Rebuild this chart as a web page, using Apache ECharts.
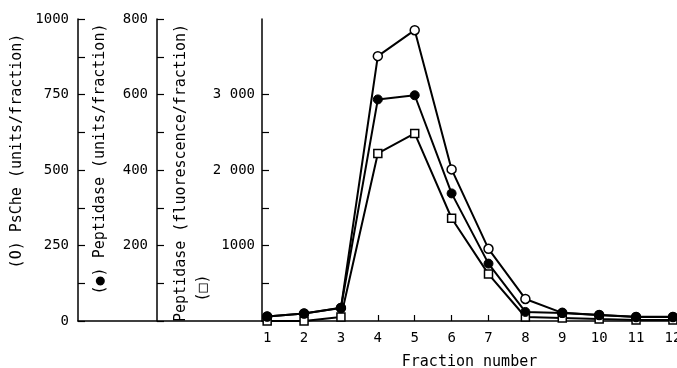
<!DOCTYPE html>
<html>
<head>
<meta charset="utf-8">
<script src="https://cdn.jsdelivr.net/npm/echarts@6/dist/echarts.min.js"></script>
<style>
  html, body { margin: 0; padding: 0; background: #fff; }
  #chart { width: 677px; height: 368px; }
</style>
</head>
<body>
<div id="chart"></div>
<script>
// fraction numbers on the x axis
const fractions = [1, 2, 3, 4, 5, 6, 7, 8, 9, 10, 11, 12]
// (O) PsChe, units/fraction
const psChe = [15, 25, 43, 877, 963, 502, 239, 73, 27, 20, 13, 13]
// (●) Peptidase, units/fraction
const peptidaseUnits = [12, 20, 35, 587, 598, 338, 152, 24, 21, 16, 11, 11]
// (□) Peptidase, fluorescence/fraction
const peptidaseFluor = [0, 0, 53, 2219, 2484, 1361, 621, 53, 40, 26, 13, 13]

const fluorTicks = [0, 500, 1000, 1500, 2000, 2500, 3000]
const fluorLabels = [1000, 2000, 3000]

const font = '"DejaVu Sans Mono", monospace'
const black = '#000'

const chart = echarts.init(document.getElementById('chart'))

const pairs = (ys) => fractions.map((f, i) => [f, ys[i]])

const yBase = {
  type: 'value',
  position: 'left',
  min: 0,
  splitLine: { show: false },
  axisLine: { show: true, onZero: false, lineStyle: { color: black, width: 1.5 } },
  axisTick: { show: true, inside: true, length: 7, lineStyle: { color: black, width: 1.2 } },
  axisLabel: { color: black, fontFamily: font, fontSize: 14, margin: 9 }
}

const option = {
  animation: false,
  backgroundColor: '#fff',
  grid: [
    { left: 262, right: 0, top: 19, bottom: 47, containLabel: false, outerBoundsMode: 'none' },
    { left: 78, width: 184, top: 19, bottom: 47, containLabel: false, outerBoundsMode: 'none' }
  ],
  xAxis: [
    {
      type: 'value',
      gridIndex: 0,
      min: 0.86,
      max: 12.11,
      splitLine: { show: false },
      axisLine: { show: true, onZero: false, lineStyle: { color: black, width: 1.5 } },
      axisTick: { show: true, inside: true, length: 6, customValues: fractions, lineStyle: { color: black, width: 1.2 } },
      axisLabel: { color: black, fontFamily: font, fontSize: 14, margin: 10, customValues: fractions },
      name: 'Fraction number',
      nameLocation: 'middle',
      nameGap: 34,
      nameTextStyle: { color: black, fontFamily: font, fontSize: 15 }
    },
    {
      type: 'value',
      gridIndex: 1,
      min: 0,
      max: 1,
      splitLine: { show: false },
      axisLine: { show: true, onZero: false, lineStyle: { color: black, width: 1.5 } },
      axisTick: { show: false },
      axisLabel: { show: false }
    }
  ],
  yAxis: [
    {
      ...yBase,
      max: 4000,
      offset: 0,
      axisTick: { ...yBase.axisTick, customValues: fluorTicks },
      axisLabel: {
        ...yBase.axisLabel,
        margin: 7,
        customValues: fluorLabels,
        formatter: (v) => (v >= 2000 ? String(v / 1000) + ' 000' : String(v))
      }
    },
    {
      ...yBase,
      max: 800,
      interval: 100,
      offset: 105,
      axisLabel: {
        ...yBase.axisLabel,
        formatter: (v) => (v > 0 && v % 200 === 0 ? String(v) : '')
      }
    },
    {
      ...yBase,
      max: 1000,
      interval: 125,
      offset: 184,
      axisLabel: {
        ...yBase.axisLabel,
        formatter: (v) => (v % 250 === 0 ? String(v) : '')
      }
    },
    { type: 'value', gridIndex: 1, show: false, min: 0, max: 1 }
  ],
  graphic: [
    {
      type: 'text', x: 17, y: 151, rotation: Math.PI / 2,
      style: { text: '(O) PsChe (units/fraction)', font: '15px ' + font, fill: black,
        textAlign: 'center', textVerticalAlign: 'middle', align: 'center', verticalAlign: 'middle' }
    },
    {
      type: 'text', x: 100, y: 159, rotation: Math.PI / 2,
      style: { text: '(●) Peptidase (units/fraction)', font: '15px ' + font, fill: black,
        textAlign: 'center', textVerticalAlign: 'middle', align: 'center', verticalAlign: 'middle' }
    },
    {
      type: 'text', x: 181, y: 173, rotation: Math.PI / 2,
      style: { text: 'Peptidase (fluorescence/fraction)', font: '15px ' + font, fill: black,
        textAlign: 'center', textVerticalAlign: 'middle', align: 'center', verticalAlign: 'middle' }
    },
    {
      type: 'text', x: 203, y: 288, rotation: Math.PI / 2,
      style: { text: '(□)', font: '15px ' + font, fill: black,
        textAlign: 'center', textVerticalAlign: 'middle', align: 'center', verticalAlign: 'middle' }
    }
  ],
  series: [
    {
      name: 'Peptidase (fluorescence)',
      type: 'line',
      xAxisIndex: 0,
      yAxisIndex: 0,
      data: pairs(peptidaseFluor),
      symbol: 'rect',
      symbolSize: 8,
      itemStyle: { color: '#fff', borderColor: black, borderWidth: 1.5 },
      lineStyle: { color: black, width: 2 }
    },
    {
      name: 'PsChe',
      type: 'line',
      xAxisIndex: 0,
      yAxisIndex: 2,
      data: pairs(psChe),
      symbol: 'circle',
      symbolSize: 9,
      itemStyle: { color: '#fff', borderColor: black, borderWidth: 1.5 },
      lineStyle: { color: black, width: 2 }
    },
    {
      name: 'Peptidase (units)',
      type: 'line',
      xAxisIndex: 0,
      yAxisIndex: 1,
      data: pairs(peptidaseUnits),
      symbol: 'circle',
      symbolSize: 9,
      itemStyle: { color: black, borderColor: black, borderWidth: 1 },
      lineStyle: { color: black, width: 2 }
    }
  ]
}

chart.setOption(option)
</script>
</body>
</html>
